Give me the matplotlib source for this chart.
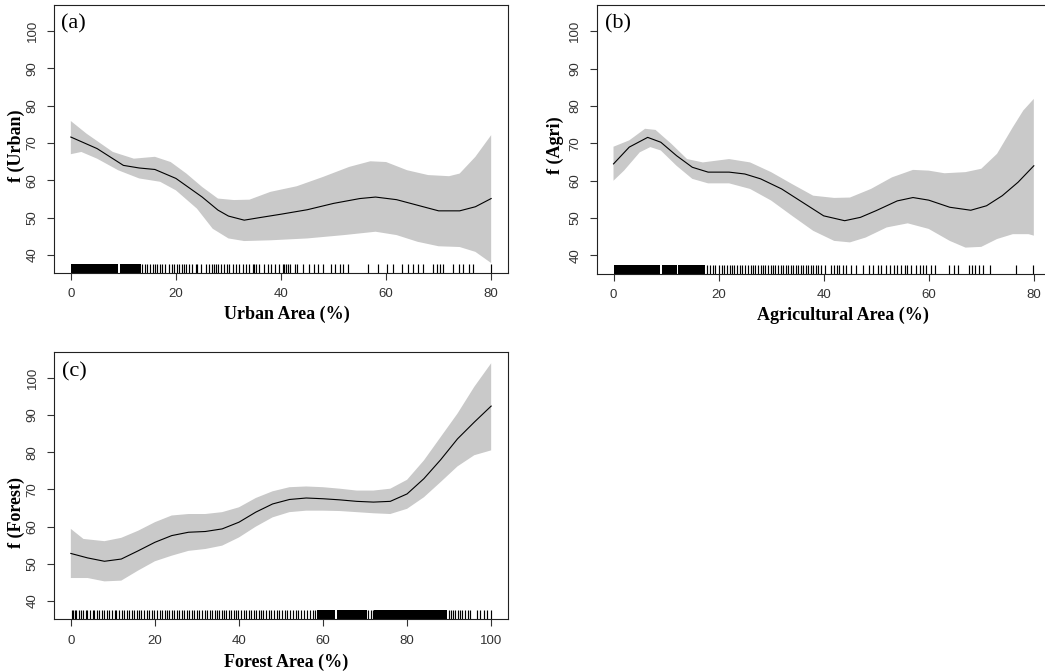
import numpy as np
import matplotlib
matplotlib.use("Agg")
import matplotlib.pyplot as plt

# ---- panel (a): Urban ----
urban_fit_x = [0, 5, 10, 13, 16, 20, 25, 28, 30, 33, 36, 40, 45, 50, 55, 58, 62, 66, 70, 74, 77, 80]
urban_fit_y = [71.6, 68.5, 64.0, 63.3, 62.9, 60.5, 55.5, 52.0, 50.4, 49.3, 50.0, 50.9, 52.1, 53.8,
               55.1, 55.5, 54.8, 53.3, 51.8, 51.8, 52.9, 55.1]
urban_up_x = [0, 3, 8, 12, 16, 19, 22, 25, 28, 31, 34, 38, 43, 48, 53, 57, 60, 64, 68, 72, 74, 77, 80]
urban_up_y = [75.9, 72.5, 67.6, 65.8, 66.3, 64.9, 61.8, 58.2, 55.1, 54.7, 54.8, 56.9, 58.4, 60.9,
              63.6, 65.1, 64.9, 62.7, 61.4, 61.1, 61.8, 66.3, 72.1]
urban_lo_x = [0, 2, 5, 9, 13, 17, 20, 24, 27, 30, 33, 38, 45, 52, 58, 62, 66, 70, 74, 77, 80]
urban_lo_y = [67.0, 67.6, 65.8, 62.7, 60.5, 59.6, 57.3, 52.4, 47.0, 44.4, 43.7, 43.9, 44.4, 45.3,
              46.2, 45.3, 43.5, 42.3, 42.1, 40.8, 37.8]
urban_rug_spans = [(0.0, 9.0), (9.3, 13.3)]
urban_rug = [13.6, 14.1, 14.5, 15.0, 15.6, 16.0, 16.4, 17.0, 17.4, 18.0, 18.7, 19.2, 19.6, 20.3,
             20.6, 21.1, 21.5, 22.0, 22.5, 23.1, 23.8, 24.1, 24.7, 25.7, 26.3, 26.8, 27.2, 27.6,
             28.1, 28.6, 29.2, 29.8, 30.1, 30.8, 31.4, 32.1, 32.7, 33.3, 34.0, 34.6, 34.9, 35.2,
             35.9, 36.8, 37.5, 38.1, 38.8, 39.7, 40.3, 40.6, 41.0, 41.3, 41.7, 42.6, 43.0, 44.2,
             45.4, 46.2, 47.0, 48.0, 49.6, 50.2, 51.2, 51.8, 52.8, 56.6, 58.5, 60.1, 61.4, 63.0,
             64.2, 65.2, 66.1, 67.1, 69.0, 69.7, 70.3, 70.9, 72.8, 73.8, 74.7, 75.7, 76.6, 79.9]

# ---- panel (b): Agri ----
agri_fit_x = [0, 3, 6.5, 9, 12, 15, 18, 22, 25, 28, 32, 36, 40, 44, 47, 50, 54, 57, 60, 64, 68, 71,
              74, 77, 80]
agri_fit_y = [64.5, 69.0, 71.6, 70.3, 66.7, 63.6, 62.3, 62.3, 61.8, 60.5, 57.8, 54.2, 50.6, 49.3,
              50.2, 52.0, 54.6, 55.5, 54.8, 52.9, 52.1, 53.3, 56.0, 59.6, 64.0]
agri_up_x = [0, 3, 6, 8, 11, 14, 17, 22, 26, 30, 34, 38, 42, 45, 49, 53, 57, 60, 63, 67, 70, 73,
             76, 78, 80]
agri_up_y = [69.1, 70.8, 73.9, 73.6, 69.9, 65.8, 64.9, 65.8, 64.9, 62.3, 59.1, 56.0, 55.4, 55.5,
             57.8, 60.9, 62.9, 62.7, 62.0, 62.3, 63.2, 67.2, 74.3, 78.8, 81.9]
agri_lo_x = [0, 2, 5, 7, 9, 12, 15, 18, 22, 26, 30, 34, 38, 42, 45, 48, 52, 56, 60, 64, 67, 70,
             73, 76, 79, 80]
agri_lo_y = [60.0, 62.7, 67.6, 69.0, 68.1, 64.0, 60.5, 59.3, 59.3, 57.8, 54.7, 50.6, 46.6, 43.9,
             43.5, 44.8, 47.5, 48.6, 47.1, 43.9, 42.1, 42.3, 44.4, 45.7, 45.7, 45.3]
agri_rug_spans = [(0.0, 8.9), (9.2, 12.0), (12.3, 17.5)]
agri_rug = [17.8, 18.4, 18.9, 19.4, 20.0, 20.6, 21.1, 21.6, 22.1, 22.6, 23.0, 23.5, 24.0, 24.5,
            25.1, 25.6, 26.1, 26.5, 27.0, 27.5, 28.0, 28.4, 28.9, 29.4, 29.9, 30.3, 30.8, 31.4,
            31.8, 32.3, 32.8, 33.3, 33.7, 34.2, 34.7, 35.2, 35.6, 36.1, 36.6, 37.1, 37.5, 38.0,
            38.5, 38.9, 39.5, 40.3, 41.4, 42.0, 42.5, 43.0, 43.6, 44.2, 45.2, 46.2, 47.4, 48.7,
            49.3, 50.3, 50.9, 51.9, 52.6, 53.3, 53.9, 54.8, 55.4, 55.8, 56.7, 57.6, 58.3, 58.9,
            59.5, 60.5, 61.1, 63.9, 64.8, 65.6, 67.6, 68.2, 68.8, 69.5, 70.3, 71.6, 76.7, 79.9]

# ---- panel (c): Forest ----
forest_fit_x = [0, 4, 8, 12, 16, 20, 24, 28, 32, 36, 40, 44, 48, 52, 56, 60, 64, 68, 72, 76, 80,
                84, 88, 92, 96, 100]
forest_fit_y = [52.8, 51.6, 50.7, 51.3, 53.5, 55.8, 57.6, 58.5, 58.7, 59.4, 61.2, 63.9, 66.1, 67.3,
                67.7, 67.5, 67.2, 66.8, 66.6, 66.8, 68.8, 72.9, 78.0, 83.6, 88.1, 92.4]
forest_up_x = [0, 3, 8, 12, 16, 20, 24, 28, 32, 36, 40, 44, 48, 52, 56, 60, 64, 68, 72, 76, 80,
               84, 88, 92, 96, 100]
forest_up_y = [59.4, 56.7, 56.1, 57.0, 58.9, 61.2, 63.0, 63.4, 63.4, 63.9, 65.2, 67.7, 69.5, 70.6,
               70.8, 70.6, 70.2, 69.7, 69.7, 70.2, 72.6, 77.8, 84.1, 90.4, 97.6, 103.9]
forest_lo_x = [0, 4, 8, 12, 16, 20, 24, 28, 32, 36, 40, 44, 48, 52, 56, 60, 64, 68, 72, 76, 80,
               84, 88, 92, 96, 100]
forest_lo_y = [46.2, 46.2, 45.3, 45.5, 48.2, 50.7, 52.2, 53.5, 54.0, 54.9, 57.1, 60.0, 62.5, 63.9,
               64.3, 64.3, 64.2, 63.9, 63.6, 63.4, 64.8, 67.9, 72.0, 76.2, 79.2, 80.5]
forest_rug_spans = [(58.6, 62.8), (63.3, 70.4), (72.2, 89.6)]
forest_rug = [0.3, 0.6, 1.0, 1.3, 1.9, 2.4, 2.8, 3.5, 3.9, 4.6, 5.2, 5.6, 6.3, 6.8, 7.4, 7.9, 8.6,
              9.0, 9.7, 10.4, 10.8, 11.5, 12.2, 12.7, 13.3, 13.9, 14.6, 15.0, 15.7, 16.3, 16.8,
              17.5, 18.1, 18.6, 19.3, 19.8, 20.5, 21.2, 21.6, 22.3, 22.9, 23.4, 24.1, 24.6, 25.3,
              25.8, 26.5, 27.0, 27.7, 28.2, 28.9, 29.4, 30.1, 30.6, 31.3, 31.8, 32.5, 33.0, 33.6,
              34.2, 34.8, 35.3, 35.9, 36.4, 37.0, 37.6, 38.1, 38.7, 39.3, 39.8, 40.5, 41.1, 41.6,
              42.3, 42.8, 43.5, 44.0, 44.7, 45.3, 45.8, 46.5, 47.2, 47.7, 48.4, 49.0, 49.6, 50.3,
              50.9, 51.5, 52.2, 52.8, 53.5, 54.1, 54.8, 55.4, 56.1, 56.8, 57.5, 58.2, 70.8, 71.3,
              71.8, 90.0, 90.4, 90.9, 91.5, 92.0, 92.6, 93.1, 93.8, 94.5, 95.0, 96.6, 97.3, 98.2,
              99.0, 99.9]

y_ticks = [40, 50, 60, 70, 80, 90, 100]
ab_x_ticks = [0, 20, 40, 60, 80]
c_x_ticks = [0, 20, 40, 60, 80, 100]

SERIF = ["Liberation Serif", "DejaVu Serif"]
SANS = ["Liberation Sans", "DejaVu Sans"]
BAND = "#c9c9c9"


def draw_panel(ax, fx, fy, ux, uy, lx, ly, spans, rug, xmax, xticks,
               tag, xlabel, ylabel, ylab_pos, xlab_pos, tag_pos):
    poly_x = np.concatenate([ux, lx[::-1]])
    poly_y = np.concatenate([uy, ly[::-1]])
    ax.fill(poly_x, poly_y, color=BAND, lw=0, zorder=1)
    ax.plot(fx, fy, color="black", lw=0.8, zorder=3)

    # rug along the bottom
    ax.vlines(rug, 0, 0.034, transform=ax.get_xaxis_transform(),
              color="black", lw=0.85, zorder=2)
    for s, e in spans:
        ax.axvspan(s, e, ymin=0, ymax=0.034, color="black", lw=0, zorder=2)

    span = xmax * 0.04
    ax.set_xlim(-span, xmax + span)
    ax.set_ylim(35.1, 107)
    ax.set_xticks(xticks)
    ax.set_yticks(y_ticks)
    ax.tick_params(axis="both", direction="out", length=5, width=0.8,
                   labelsize=9.5, colors="#333333")
    ax.tick_params(axis="x", pad=6)
    ax.tick_params(axis="y", pad=6)
    for lab in ax.get_yticklabels():
        lab.set_rotation(90)
        lab.set_va("center")
        lab.set_family(SANS)
    for lab in ax.get_xticklabels():
        lab.set_family(SANS)
    for sp in ax.spines.values():
        sp.set_linewidth(0.8)
        sp.set_color("#222222")

    ax.set_xlabel(xlabel, fontsize=13, fontweight="bold", family=SERIF)
    ax.set_ylabel(ylabel, fontsize=13, fontweight="bold", family=SERIF)
    ax.xaxis.set_label_coords(*xlab_pos)
    ax.yaxis.set_label_coords(*ylab_pos)
    ax.text(tag_pos[0], tag_pos[1], tag, transform=ax.transAxes, ha="left", va="top",
            fontsize=16, family=SERIF)


fig = plt.figure(figsize=(10.45, 6.71), dpi=100)
ax_a = fig.add_axes([0.0517, 0.593, 0.4344, 0.3994])
ax_b = fig.add_axes([0.571, 0.592, 0.4344, 0.4004])
ax_c = fig.add_axes([0.0517, 0.077, 0.4344, 0.3988])

draw_panel(ax_a, urban_fit_x, urban_fit_y, np.array(urban_up_x), np.array(urban_up_y),
           np.array(urban_lo_x), np.array(urban_lo_y), urban_rug_spans, urban_rug, 80,
           ab_x_ticks, "(a)", "Urban Area (%)", "f (Urban)",
           (-0.063, 0.474), (0.513, -0.123), (0.015, 0.965))
draw_panel(ax_b, agri_fit_x, agri_fit_y, np.array(agri_up_x), np.array(agri_up_y),
           np.array(agri_lo_x), np.array(agri_lo_y), agri_rug_spans, agri_rug, 80,
           ab_x_ticks, "(b)", "Agricultural Area (%)", "f (Agri)",
           (-0.073, 0.48), (0.5425, -0.123), (0.018, 0.965))
draw_panel(ax_c, forest_fit_x, forest_fit_y, np.array(forest_up_x), np.array(forest_up_y),
           np.array(forest_lo_x), np.array(forest_lo_y), forest_rug_spans, forest_rug, 100,
           c_x_ticks, "(c)", "Forest Area (%)", "f (Forest)",
           (-0.063, 0.40), (0.511, -0.127), (0.018, 0.96))

fig.savefig("out.png", dpi=100)
